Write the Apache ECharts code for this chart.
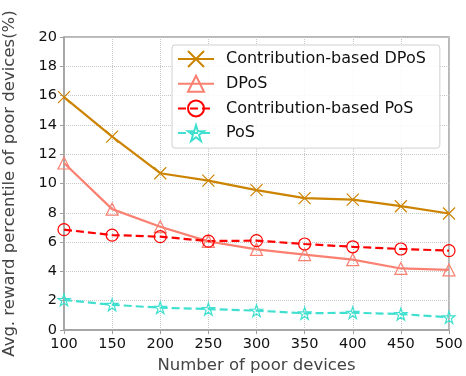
<!DOCTYPE html>
<html>
<head>
<meta charset="utf-8">
<script src="https://cdn.jsdelivr.net/npm/echarts@6/dist/echarts.min.js"></script>
<style>
  html, body { margin: 0; padding: 0; background: #fff; }
  #chart { width: 466px; height: 376px; }
</style>
</head>
<body>
<div id="chart"></div>
<script>
// Number of poor devices on the x axis
const devices = [100, 150, 200, 250, 300, 350, 400, 450, 500];

// Average reward percentile of poor devices (%)
const contribDPoS = [15.9, 13.2, 10.7, 10.2, 9.55, 9.0, 8.9, 8.45, 7.95];
const dpos        = [11.4, 8.25, 7.05, 6.05, 5.5, 5.15, 4.8, 4.2, 4.1];
const contribPoS  = [6.85, 6.48, 6.37, 6.07, 6.1, 5.87, 5.68, 5.53, 5.42];
const pos         = [2.05, 1.72, 1.52, 1.43, 1.32, 1.14, 1.18, 1.09, 0.87];

const seriesNames = ['Contribution-based DPoS', 'DPoS', 'Contribution-based PoS', 'PoS'];
const yTicks = [0, 2, 4, 6, 8, 10, 12, 14, 16, 18, 20];

const crossPath = 'path://M0,0L10,10M10,0L0,10';
const starPath = 'path://M50,0L61.8,36.2L100,36.2L69.1,58.6L80.9,95.1L50,72.4L19.1,95.1L30.9,58.6L0,36.2L38.2,36.2Z';

function pairs(vals) {
  return devices.map((d, i) => [d, vals[i]]);
}

function lineSeries(name, vals, color, symbol, size, dashed) {
  return {
    name: name,
    type: 'line',
    data: pairs(vals),
    symbol: symbol,
    symbolSize: size,
    showAllSymbol: true,
    lineStyle: { color: color, width: 2.2, type: dashed ? [8, 4] : 'solid' },
    itemStyle: { color: 'rgba(0,0,0,0)', borderColor: color, borderWidth: 1.2 },
    emphasis: { disabled: true },
    animation: false
  };
}

const chart = echarts.init(document.getElementById('chart'), null, { renderer: 'canvas' });
chart.setOption({
  animation: false,
  backgroundColor: '#fff',
  grid: {
    left: 64, right: 17, top: 37, bottom: 46,
    outerBoundsMode: 'none', containLabel: false,
    show: true, borderColor: '#a0a0a0', borderWidth: 1.5, backgroundColor: 'transparent'
  },
  legend: {
    data: seriesNames,
    orient: 'vertical',
    left: 172, top: 45,
    padding: [4, 14, 5, 5],
    itemWidth: 36, itemHeight: 20, itemGap: 4.7,
    backgroundColor: 'rgba(255,255,255,0.85)',
    borderColor: '#d0d0d0', borderWidth: 1, borderRadius: 3,
    textStyle: {
      fontFamily: 'DejaVu Sans', fontSize: 16, color: '#111',
      lineHeight: 20, padding: [0, 0, 0, 7]
    }
  },
  xAxis: {
    type: 'value',
    min: 100, max: 500, interval: 50,
    name: 'Number of poor devices',
    nameLocation: 'middle', nameGap: 27,
    nameTextStyle: { fontFamily: 'DejaVu Sans', fontSize: 16.5, color: '#444' },
    axisLine: { show: true, lineStyle: { color: '#a0a0a0', width: 1.5 } },
    axisTick: { show: true, length: 4, lineStyle: { color: '#a0a0a0' } },
    axisLabel: { fontFamily: 'DejaVu Sans', fontSize: 14.5, color: '#111', margin: 7 },
    splitLine: { show: true, lineStyle: { color: '#c8c8c8', type: 'dotted', width: 1 } }
  },
  yAxis: {
    type: 'value',
    min: 0, max: 20, interval: 2,
    name: 'Avg. reward percentile of poor devices(%)',
    nameLocation: 'middle', nameGap: 46,
    nameTextStyle: { fontFamily: 'DejaVu Sans', fontSize: 16.5, color: '#444' },
    axisLine: { show: true, lineStyle: { color: '#a0a0a0', width: 1.5 } },
    axisTick: { show: true, length: 4, lineStyle: { color: '#a0a0a0' } },
    axisLabel: {
      fontFamily: 'DejaVu Sans', fontSize: 14.5, color: '#111', margin: 7,
      formatter: v => (yTicks.includes(v) ? String(v) : '')
    },
    splitLine: { show: true, lineStyle: { color: '#c8c8c8', type: 'dotted', width: 1 } }
  },
  series: [
    lineSeries(seriesNames[0], contribDPoS, '#cc8400', crossPath, 12, false),
    lineSeries(seriesNames[1], dpos, '#fa8072', 'triangle', 12, false),
    lineSeries(seriesNames[2], contribPoS, '#ff0000', 'circle', 12, true),
    lineSeries(seriesNames[3], pos, '#40e0d0', starPath, 12, true)
  ]
});
</script>
</body>
</html>
